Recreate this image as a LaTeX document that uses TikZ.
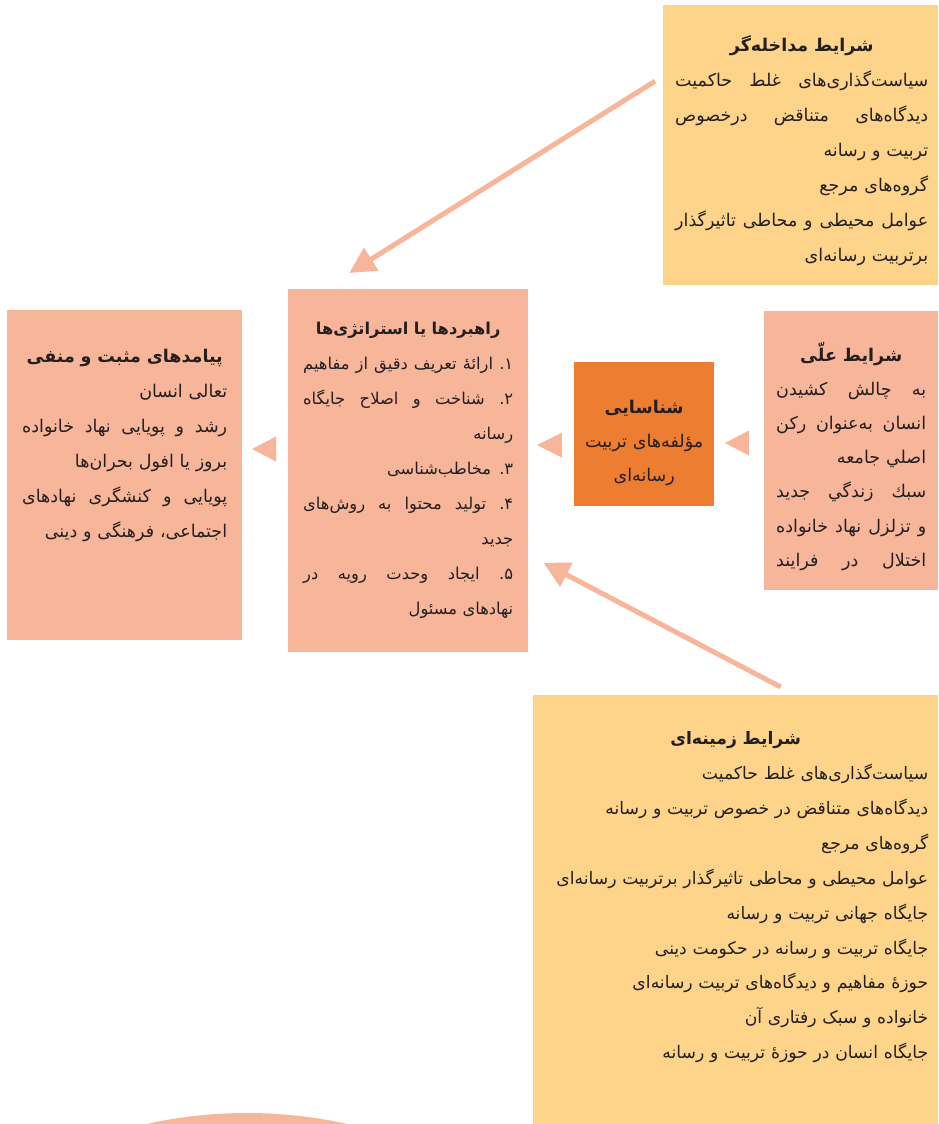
\documentclass[tikz,border=0pt]{standalone}
\usepackage{fontspec}
\newfontfamily\arabicfont[Script=Arabic]{DejaVu Sans}
\usetikzlibrary{arrows.meta,calc,positioning}
\TeXXeTstate=1
\definecolor{salmon}{HTML}{F7B59A}
\definecolor{sand}{HTML}{FDD48A}
\definecolor{deeporange}{HTML}{ED7D31}
\definecolor{inkgray}{HTML}{231F20}
% one right-to-left line, a justified one, and a centred bold heading
\newcommand\rl[1]{\beginR#1\endR}
\def\jl#1{\leavevmode\hbox to\hsize{\beginR\jlsplit#1 \jlend\endR}}
\def\jlsplit#1 #2\jlend{#1\ifx\relax#2\relax\else\hfill\jlsplit#2\jlend\fi}
\newcommand\hd[1]{\makebox[\hsize]{\strut\bfseries\beginR#1\endR}}

\begin{document}
\begin{tikzpicture}[x=1pt,y=-1pt,
  box/.style={inner sep=0pt, anchor=north west},
  txt/.style={font=\arabicfont\fontsize{17.5}{35}\selectfont, text=inkgray,
    align=right, inner sep=0pt, anchor=north},
  link/.style={draw=salmon, line width=5pt, -{Triangle[length=26pt,width=26pt]}}]
\useasboundingbox (0,0) rectangle (938,1124);

% part of a circle at the bottom
\begin{scope}
\clip (0,0) rectangle (938,1124);
\fill[salmon] (247,1573) circle (460);
\end{scope}

% boxes
\node[box, fill=sand, minimum width=275pt, minimum height=280pt] (inter) at (663,5) {};
\node[box, fill=salmon, minimum width=240pt, minimum height=363pt] (strat) at (288,289) {};
\node[box, fill=salmon, minimum width=235pt, minimum height=330pt] (result) at (7,310) {};
\node[box, fill=salmon, minimum width=174pt, minimum height=279pt] (causal) at (764,311) {};
\node[box, fill=deeporange, minimum width=140pt, minimum height=144pt] (core) at (574,362) {};
\node[box, fill=sand, minimum width=405pt, minimum height=429pt] (context) at (533,695) {};

% texts
\node[txt, text width=253pt] (intertxt) at ($(inter.north)+(1,22)$) {%
  \hd{شرایط مداخله‌گر}\\
  \jl{سیاست‌گذاری‌های غلط حاکمیت}\\
  \jl{دیدگاه‌های متناقض درخصوص}\\
  \rl{تربیت و رسانه}\\
  \rl{گروه‌های مرجع}\\
  \jl{عوامل محیطی و محاطی تاثیرگذار}\\
  \rl{برتربیت رسانه‌ای}};
\node[txt, text width=210pt, font=\arabicfont\fontsize{16.3}{35}\selectfont] (strattxt) at ($(strat.north)+(0,21)$) {%
  \hd{راهبردها یا استراتژی‌ها}\\
  \jl{۱. ارائهٔ تعریف دقیق از مفاهیم}\\
  \jl{۲. شناخت و اصلاح جایگاه}\\
  \rl{رسانه}\\
  \rl{۳. مخاطب‌شناسی}\\
  \jl{۴. تولید محتوا به روش‌های}\\
  \rl{جدید}\\
  \jl{۵. ایجاد وحدت رویه در}\\
  \rl{نهادهای مسئول}};
\node[txt, text width=205pt] (resulttxt) at ($(result.north)+(0,28)$) {%
  \hd{پیامدهای مثبت و منفی}\\
  \rl{تعالی انسان}\\
  \jl{رشد و پویایی نهاد خانواده}\\
  \rl{بروز یا افول بحران‌ها}\\
  \jl{پویایی و کنشگری نهادهای}\\
  \rl{اجتماعی، فرهنگی و دینی}};
\node[txt, text width=150pt, font=\arabicfont\fontsize{17.5}{34.2}\selectfont] (causaltxt) at ($(causal.north)+(0,26)$) {%
  \hd{شرایط علّی}\\
  \jl{به چالش کشیدن}\\
  \jl{انسان به‌عنوان رکن}\\
  \rl{اصلي جامعه}\\
  \jl{سبك زندگي جدید}\\
  \jl{و تزلزل نهاد خانواده}\\
  \jl{اختلال در فرایند}};
\node[txt, text width=130pt, align=center, font=\arabicfont\fontsize{17.5}{34}\selectfont] (coretxt) at ($(core.north)+(0,27)$) {%
  \hd{شناسایی}\\
  \rl{مؤلفه‌های تربیت}\\
  \rl{رسانه‌ای}};
\node[txt, text width=385pt, font=\arabicfont\fontsize{17.2}{34.9}\selectfont] (contexttxt) at ($(context.north)+(0,25)$) {%
  \hd{شرایط زمینه‌ای}\\
  \rl{سیاست‌گذاری‌های غلط حاکمیت}\\
  \rl{دیدگاه‌های متناقض در خصوص تربیت و رسانه}\\
  \rl{گروه‌های مرجع}\\
  \rl{عوامل محیطی و محاطی تاثیرگذار برتربیت رسانه‌ای}\\
  \rl{جایگاه جهانی تربیت و رسانه}\\
  \rl{جایگاه تربیت و رسانه در حکومت دینی}\\
  \rl{حوزهٔ مفاهیم و دیدگاه‌های تربیت رسانه‌ای}\\
  \rl{خانواده و سبک رفتاری آن}\\
  \rl{جایگاه انسان در حوزهٔ تربیت و رسانه}};

% small arrow heads between the boxes
\fill[salmon] (252,449) -- (276,436.5) -- (276,461.5) -- cycle;
\fill[salmon] (537,445) -- (562,432.5) -- (562,457.5) -- cycle;
\fill[salmon] (725,443) -- (749,430.5) -- (749,455.5) -- cycle;

% long arrows
\coordinate (a1s) at ($(inter.west)+(-8,-64)$);
\coordinate (a1e) at ($(strat.north)+(-59,-16)$);
\coordinate (a2s) at ($(context.north)+(45,-8)$);
\coordinate (a2e) at ($(strat.east)+(15,92)$);
\draw[link] (a1s) -- (a1e);
\draw[link] (a2s) -- (a2e);
\end{tikzpicture}
\end{document}
